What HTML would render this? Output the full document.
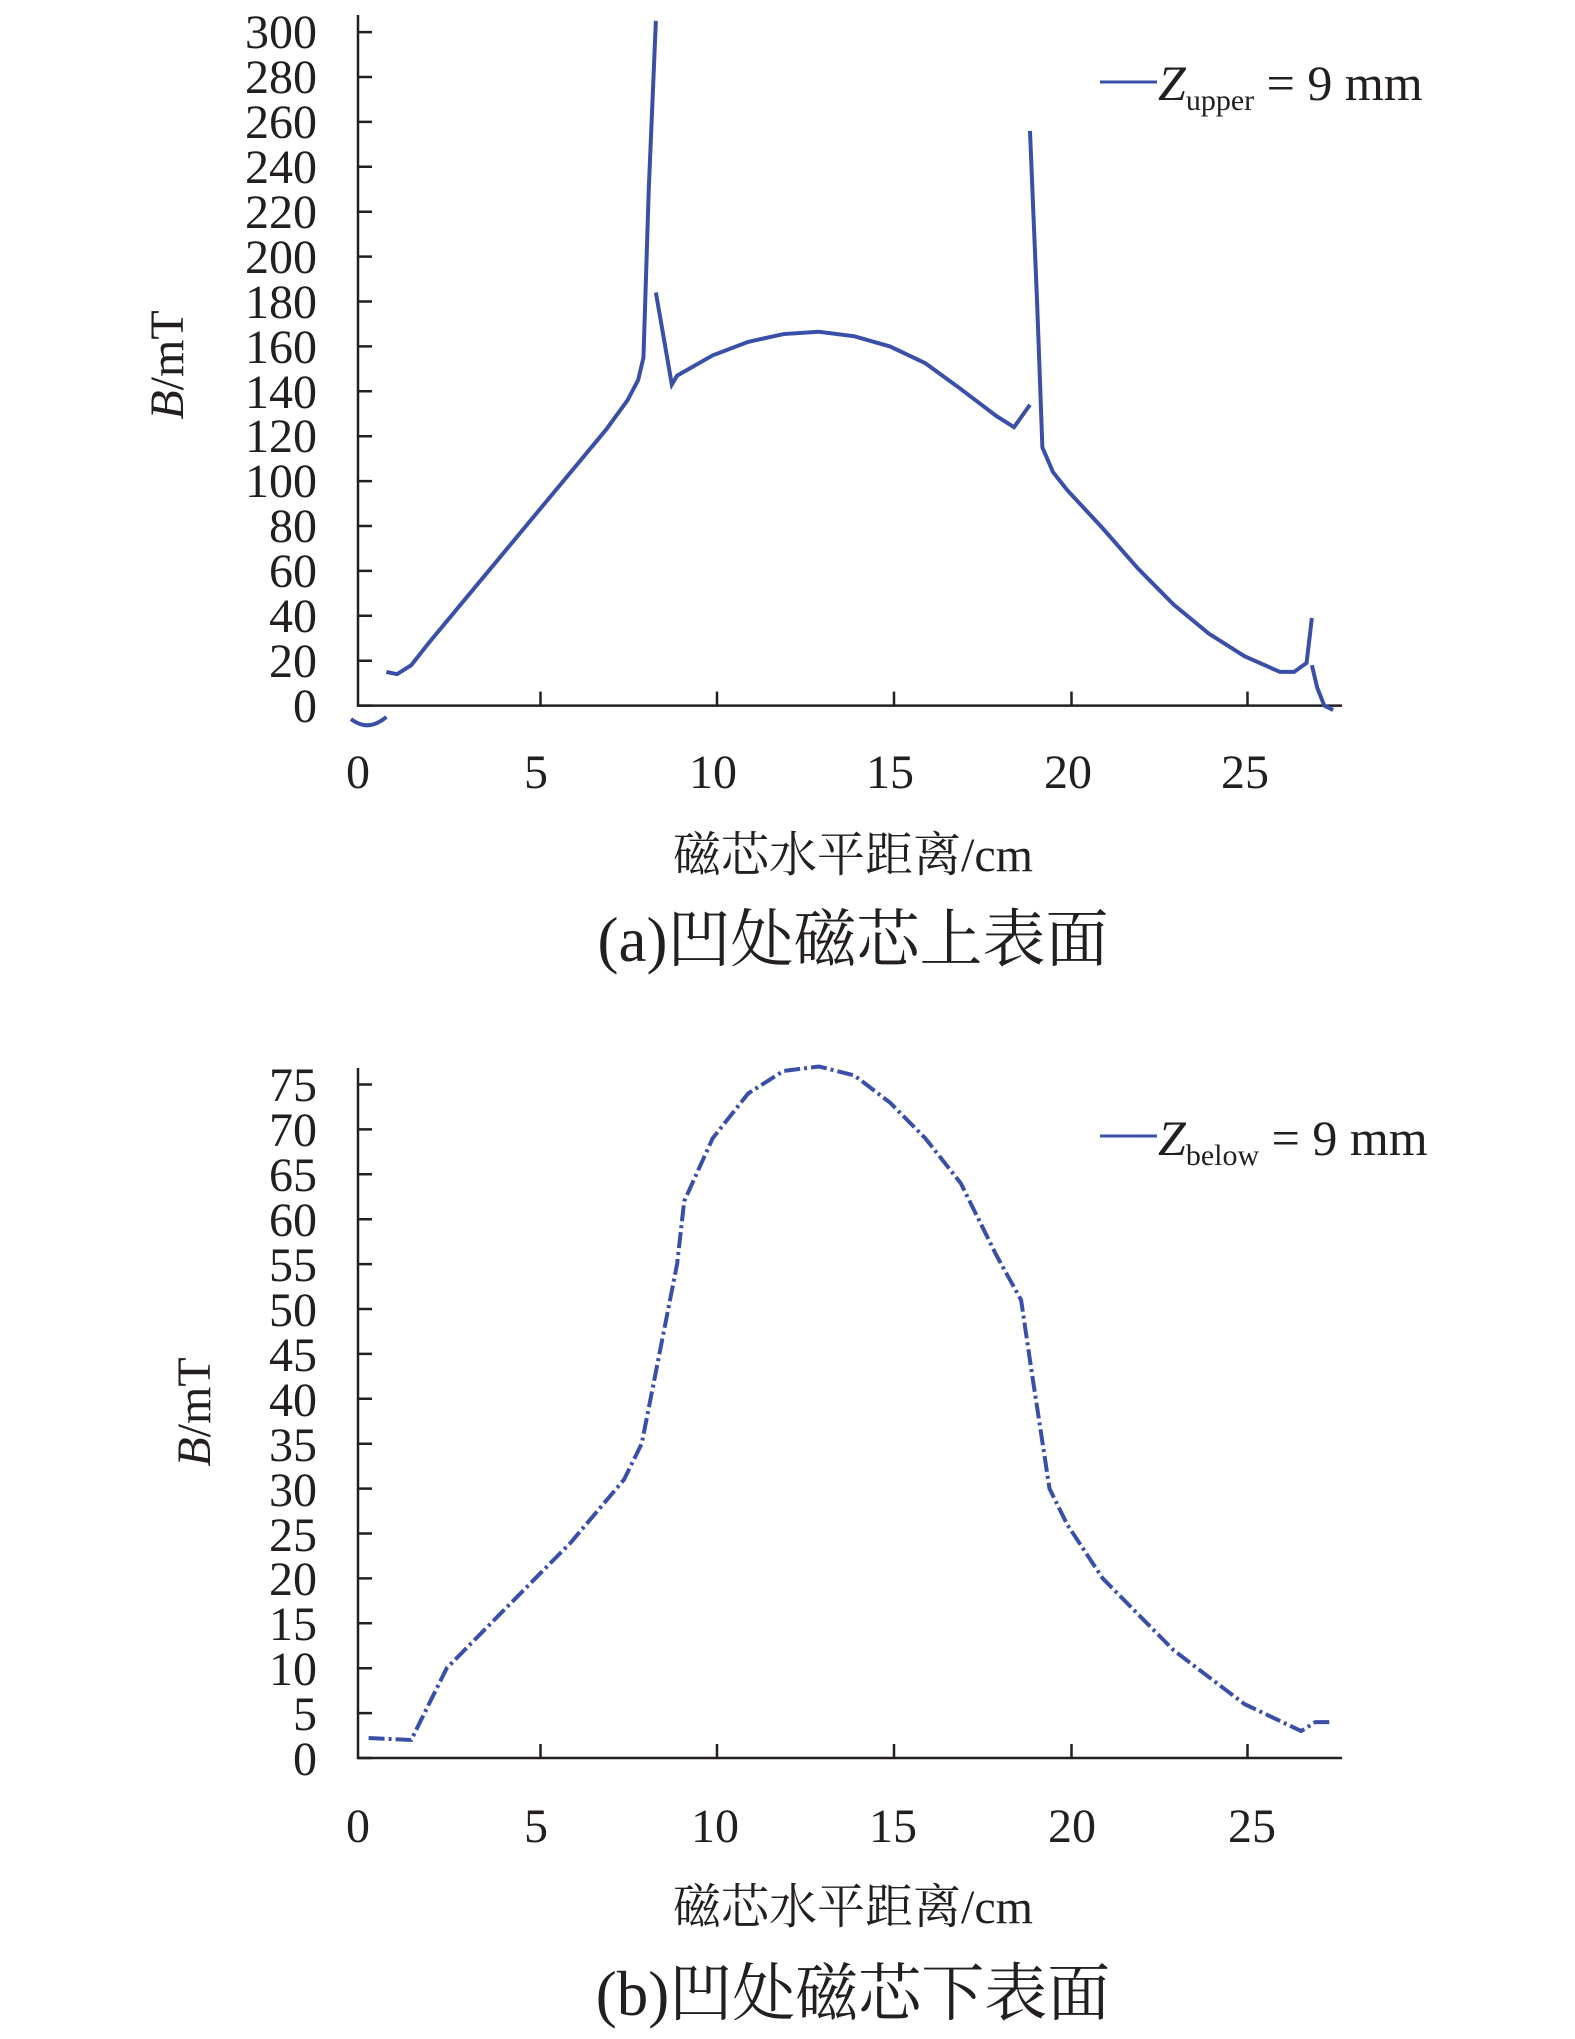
<!DOCTYPE html>
<html><head><meta charset="utf-8"><style>
body{margin:0;background:#fff}
svg{display:block}
text{font-family:"Liberation Serif","Noto Serif CJK SC",serif;fill:#231f20}
</style></head><body>
<svg width="1575" height="2039" viewBox="0 0 1575 2039" xmlns="http://www.w3.org/2000/svg">
<g stroke="#231f20" stroke-width="2.5" fill="none">
<path d="M358,15 V705.6 H1342"/>
<path d="M358,705.6h14 M358,660.7h14 M358,615.8h14 M358,570.9h14 M358,526h14 M358,481.1h14 M358,436.2h14 M358,391.3h14 M358,346.4h14 M358,301.5h14 M358,256.6h14 M358,211.7h14 M358,166.8h14 M358,121.9h14 M358,77h14 M358,32.1h14"/>
<path d="M540.5,705.6v-14 M717,705.6v-14 M894,705.6v-14 M1071.5,705.6v-14 M1247.5,705.6v-14"/>
</g>
<g font-size="48" text-anchor="end">
<text x="317" y="722">0</text><text x="317" y="677">20</text><text x="317" y="632">40</text><text x="317" y="587">60</text><text x="317" y="542">80</text><text x="317" y="497">100</text><text x="317" y="452">120</text><text x="317" y="408">140</text><text x="317" y="363">160</text><text x="317" y="318">180</text><text x="317" y="273">200</text><text x="317" y="228">220</text><text x="317" y="183">240</text><text x="317" y="138">260</text><text x="317" y="93">280</text><text x="317" y="48">300</text>
</g>
<g font-size="48" text-anchor="middle">
<text x="358" y="788">0</text><text x="536" y="788">5</text><text x="713" y="788">10</text><text x="890" y="788">15</text><text x="1068" y="788">20</text><text x="1245" y="788">25</text>
</g>
<text transform="translate(183,365) rotate(-90)" font-size="48" text-anchor="middle"><tspan font-style="italic">B</tspan>/mT</text>
<text x="853" y="871" font-size="48" text-anchor="middle">磁芯水平距离/cm</text>
<text x="853" y="961" font-size="63" text-anchor="middle">(a)凹处磁芯上表面</text>
<line x1="1100" y1="82" x2="1157" y2="82" stroke="#3a4fa8" stroke-width="3"/>
<text x="1158" y="100" font-size="50"><tspan font-style="italic">Z</tspan><tspan font-size="30" dy="10">upper</tspan><tspan dy="-10"> = 9 mm</tspan></text>
<g transform="translate(358,705.6) scale(35.46,-2.245)" fill="none" stroke="#3a4fa8" stroke-width="4">
<path vector-effect="non-scaling-stroke" d="M-0.2,-6 Q0.3,-12 0.8,-5"/>
<path vector-effect="non-scaling-stroke" d="M0.8,15 L1.1,14 L1.5,18 L2,28 L3,47 L4,66 L5,85 L6,104 L7,123 L7.6,136 L7.9,145 L8.05,155 L8.2,230 L8.4,305"/>
<path vector-effect="non-scaling-stroke" d="M8.4,184 L8.85,143 L9,147 L10,156 L11,162 L12,165.5 L13,166.5 L14,164.5 L15,160 L16,152.5 L17,141 L18,129 L18.5,124 L18.95,134"/>
<path vector-effect="non-scaling-stroke" d="M18.95,256 L19.15,180 L19.3,115 L19.6,104 L20,96 L21,79 L22,61 L23,45 L24,32 L25,22 L26,15 L26.4,15 L26.75,19 L26.9,39"/>
<path vector-effect="non-scaling-stroke" d="M26.9,18 L27.05,8 L27.25,0 L27.5,-2"/>
</g>
<g stroke="#231f20" stroke-width="2.5" fill="none">
<path d="M358,1068 V1758 H1342"/>
<path d="M358,1758h14 M358,1713.1h14 M358,1668.2h14 M358,1623.3h14 M358,1578.4h14 M358,1533.5h14 M358,1488.6h14 M358,1443.7h14 M358,1398.8h14 M358,1353.9h14 M358,1309h14 M358,1264.1h14 M358,1219.2h14 M358,1174.3h14 M358,1129.4h14 M358,1084.5h14"/>
<path d="M540.5,1758v-14 M717,1758v-14 M894,1758v-14 M1071.5,1758v-14 M1247.5,1758v-14"/>
</g>
<g font-size="48" text-anchor="end">
<text x="317" y="1775">0</text><text x="317" y="1730">5</text><text x="317" y="1685">10</text><text x="317" y="1640">15</text><text x="317" y="1595">20</text><text x="317" y="1551">25</text><text x="317" y="1506">30</text><text x="317" y="1461">35</text><text x="317" y="1416">40</text><text x="317" y="1371">45</text><text x="317" y="1326">50</text><text x="317" y="1281">55</text><text x="317" y="1236">60</text><text x="317" y="1191">65</text><text x="317" y="1146">70</text><text x="317" y="1101">75</text>
</g>
<g font-size="48" text-anchor="middle">
<text x="358" y="1842">0</text><text x="536" y="1842">5</text><text x="715" y="1842">10</text><text x="893" y="1842">15</text><text x="1072" y="1842">20</text><text x="1252" y="1842">25</text>
</g>
<text transform="translate(210,1412) rotate(-90)" font-size="48" text-anchor="middle"><tspan font-style="italic">B</tspan>/mT</text>
<text x="853" y="1923" font-size="48" text-anchor="middle">磁芯水平距离/cm</text>
<text x="853" y="2015" font-size="63" text-anchor="middle">(b)凹处磁芯下表面</text>
<line x1="1100" y1="1136" x2="1157" y2="1136" stroke="#3a4fa8" stroke-width="3"/>
<text x="1158" y="1155" font-size="50"><tspan font-style="italic">Z</tspan><tspan font-size="30" dy="10">below</tspan><tspan dy="-10"> = 9 mm</tspan></text>
<path fill="none" stroke="#3a4fa8" stroke-width="4" stroke-dasharray="16 4 3 4" d="M368.6,1738 L411.2,1740 L428.9,1704.1 L446.7,1668.2 L499.8,1614.3 L570.8,1542.5 L624,1479.6 L641.7,1443.7 L659.4,1353.9 L677.1,1264.1 L684.2,1201.2 L712.6,1138.4 L748.1,1093.5 L783.5,1071 L819,1066.5 L854.4,1075.5 L889.9,1102.5 L925.4,1138.4 L960.8,1183.3 L996.3,1255.1 L1021.1,1300 L1031.7,1371.9 L1049.5,1488.6 L1067.2,1524.5 L1102.7,1578.4 L1138.1,1614.3 L1173.6,1650.2 L1209,1677.2 L1244.5,1704.1 L1301.2,1731.1 L1315.4,1722.1 L1333.2,1722.1"/>
</svg>
</body></html>
